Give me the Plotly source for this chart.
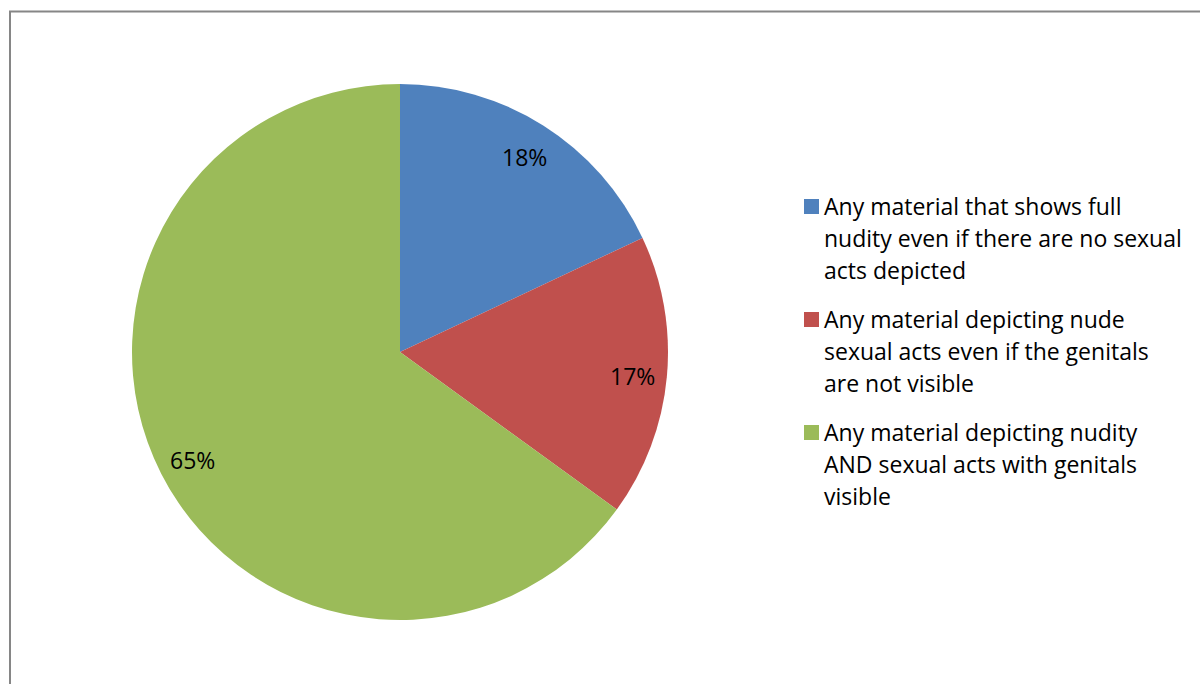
import math
import plotly.graph_objects as go

# Survey answers and their shares (percent)
categories = [
    "Any material that shows full nudity even if there are no sexual acts depicted",
    "Any material depicting nude sexual acts even if the genitals are not visible",
    "Any material depicting nudity AND sexual acts with genitals visible",
]
legend_lines = [
    ["Any material that shows full", "nudity even if there are no sexual", "acts depicted"],
    ["Any material depicting nude", "sexual acts even if the genitals", "are not visible"],
    ["Any material depicting nudity", "AND sexual acts with genitals", "visible"],
]
values = [18, 17, 65]
colors = ["#4F81BD", "#C0504D", "#9BBB59"]

W, H = 1200, 684
FONT = "Open Sans"
FSIZE = 23

# Pie placement in pixels
cx, cy, R = 400, 352, 268
dom_x = [(cx - R) / W, (cx + R) / W]
dom_y = [1 - (cy + R) / H, 1 - (cy - R) / H]

fig = go.Figure(
    go.Pie(
        labels=categories,
        values=values,
        marker=dict(colors=colors, line=dict(width=0)),
        sort=False,
        direction="clockwise",
        rotation=0,
        textinfo="none",
        hoverinfo="label+percent",
        showlegend=False,
        domain=dict(x=dom_x, y=dom_y),
    )
)

annotations = []
shapes = []

# Percentage labels placed along each slice's mid-angle
total = sum(values)
start = 0.0
for v in values:
    mid = (start + v / 2) / total * 2 * math.pi
    start += v
    r = 0.87 * R
    px = cx + r * math.sin(mid)
    py = cy - r * math.cos(mid) + 2
    annotations.append(dict(
        x=px / W, y=1 - py / H, xref="paper", yref="paper",
        text=f"{round(v / total * 100)}%", showarrow=False,
        xanchor="center", yanchor="middle",
        font=dict(family=FONT, size=FSIZE, color="#000000"),
    ))

# Legend: colour square plus wrapped text lines
item_top = [199, 312, 425]
line_pitch = 32
for i, lines in enumerate(legend_lines):
    y0 = item_top[i]
    shapes.append(dict(
        type="rect", xref="paper", yref="paper",
        x0=804 / W, x1=819 / W, y0=1 - (y0 + 15) / H, y1=1 - y0 / H,
        fillcolor=colors[i], line=dict(width=0),
    ))
    for j, t in enumerate(lines):
        yc = y0 + 7 + j * line_pitch
        annotations.append(dict(
            x=822 / W, y=1 - yc / H, xref="paper", yref="paper",
            text=t, showarrow=False, xanchor="left", yanchor="middle",
            font=dict(family=FONT, size=FSIZE, color="#000000"),
        ))

# Chart frame
shapes.append(dict(
    type="rect", xref="paper", yref="paper",
    x0=10 / W, x1=1.05, y0=-0.05, y1=1 - 11.5 / H,
    line=dict(color="#868686", width=2), fillcolor="rgba(0,0,0,0)", layer="below",
))

fig.update_layout(
    width=W, height=H,
    margin=dict(l=0, r=0, t=0, b=0),
    paper_bgcolor="#FFFFFF", plot_bgcolor="#FFFFFF",
    annotations=annotations, shapes=shapes,
    font=dict(family=FONT, size=FSIZE),
)

fig.write_html("out.html")
